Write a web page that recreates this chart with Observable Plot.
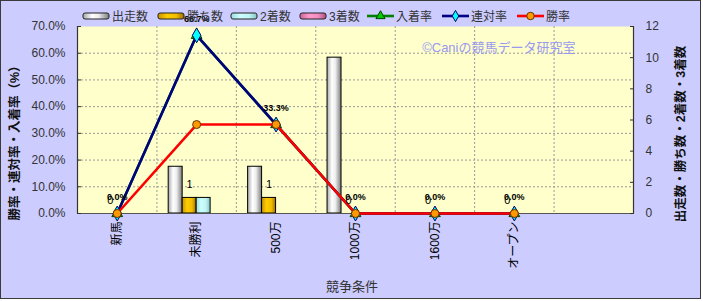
<!DOCTYPE html>
<html><head><meta charset="utf-8">
<script src="https://cdn.jsdelivr.net/npm/d3@7"></script>
<script src="https://cdn.jsdelivr.net/npm/@observablehq/plot@0.6"></script>
<style>
body{margin:0;background:#fff;overflow:hidden;}
#wrap{position:relative;width:703px;height:301px;}
#box{position:absolute;left:0;top:0;width:701px;height:299px;box-sizing:border-box;border:1px solid #3a3a3a;background:#CCCCFF;}
#chart{position:absolute;left:0;top:0;}
</style></head><body>
<div id="wrap"><div id="box"></div><div id="chart"></div></div>
<script>
// ---- data ----
const categories = ["新馬", "未勝利", "500万", "1000万", "1600万", "オープン"];
const starts  = [0, 3, 3, 10, 0, 0];   // 出走数
const wins    = [0, 1, 1, 0, 0, 0];    // 勝ち数
const seconds = [0, 1, 0, 0, 0, 0];    // 2着数
const thirds  = [0, 0, 0, 0, 0, 0];    // 3着数
const placeRate  = [0, 66.7, 33.3, 0, 0, 0]; // 入着率
const rentaiRate = [0, 66.7, 33.3, 0, 0, 0]; // 連対率
const winRate    = [0, 33.3, 33.3, 0, 0, 0]; // 勝率
const leftTicks  = [0, 10, 20, 30, 40, 50, 60, 70];
const rightTicks = [0, 2, 4, 6, 8, 10, 12];
const legendLabels = ["出走数", "勝ち数", "2着数", "3着数", "入着率", "連対率", "勝率"];
const leftTitle = "勝率・連対率・入着率（%）";
const rightTitle = "出走数・勝ち数・2着数・3着数";
const xTitle = "競争条件";
const watermark = "©Caniの競馬データ研究室";

// ---- derived ----
const nSlots = 7;               // 6 categories + one empty slot
const k = 70 / 12;              // count axis -> percent axis
const bw = 0.176;               // bar width in category units
const rows = vals => vals.map((v, i) => ({i, v}));
const barRows = (vals, s) => vals.map((v, i) => ({i, v, s})).filter(d => d.v > 0);
const cx = d => d.i + 0.5;
const barX1 = d => d.i + 0.5 + (d.s - 2) * bw;
const barX2 = d => d.i + 0.5 + (d.s - 1) * bw;
const font = "'Liberation Sans', 'Noto Sans CJK JP', sans-serif";

const barFills = ["url(#gWhite)", "url(#gGold)", "url(#gCyan)", "url(#gPink)"];
const barMarks = [starts, wins, seconds, thirds].map((vals, s) =>
  Plot.rect(barRows(vals, s), {x1: barX1, x2: barX2, y1: 0, y2: d => d.v * k,
    fill: barFills[s], stroke: "#000", strokeWidth: 1}));

const lineSeries = [
  {vals: placeRate, stroke: "#008000", symbol: "triangle", fill: "#00cc00", mstroke: "#004000", r: 4},
  {vals: rentaiRate, stroke: "#000080", symbol: "diamond", fill: "#00ffff", mstroke: "#000060", r: 4.5},
  {vals: winRate, stroke: "#ff0000", symbol: "circle", fill: "#ff9900", mstroke: "#663300", r: 4}
];
const lineMarks = lineSeries.flatMap(s => [
  Plot.line(rows(s.vals), {x: cx, y: "v", stroke: s.stroke, strokeWidth: 2.6}),
  Plot.dot(rows(s.vals), {x: cx, y: "v", symbol: s.symbol, r: s.r, fill: s.fill, stroke: s.mstroke, strokeWidth: 1})
]);

const chart = Plot.plot({
  width: 703, height: 301,
  marginLeft: 77, marginRight: 70, marginTop: 26, marginBottom: 88,
  style: {background: "transparent", fontFamily: font, fontSize: "12px", color: "#333"},
  x: {type: "linear", domain: [0, nSlots], label: null},
  y: {domain: [0, 70], label: null},
  marks: [
    Plot.frame({fill: "#FFFFCC", stroke: "none"}),
    Plot.ruleY(leftTicks.filter(t => t > 0 && t < 70), {stroke: "#999", strokeDasharray: "2,2"}),
    Plot.ruleX(d3.range(1, nSlots), {stroke: "#999", strokeDasharray: "2,2"}),
    ...barMarks,
    Plot.ruleX([0, nSlots], {stroke: "#333", strokeWidth: 1.2}),
    Plot.ruleY([0], {stroke: "#555", strokeWidth: 1}),
    Plot.axisY(leftTicks, {anchor: "left", tickSize: -4, tickPadding: 16, tickFormat: d => d.toFixed(1) + "%", label: null, stroke: "#333", fill: "#333"}),
    Plot.axisY(rightTicks.map(t => t * k), {anchor: "right", tickSize: -4, tickPadding: 16, tickFormat: d => String(Math.round(d / k)), label: null, stroke: "#333", fill: "#333"}),
    Plot.axisX(categories.map((c, i) => i + 0.5), {anchor: "bottom", tickSize: 0, tickPadding: 8, tickRotate: -90, textAnchor: "end", tickFormat: d => categories[Math.floor(d)], label: null, fill: "#000", fontSize: 12}),
    ...lineMarks,
    Plot.text(rows(rentaiRate), {x: cx, y: "v", text: d => d.v.toFixed(1) + "%", dx: 0, dy: -16, fontWeight: "bold", fontSize: 9, fill: "#000"}),
    Plot.text(rows(wins), {x: d => d.i + 0.5 - 0.5 * bw, y: d => d.v * k, text: d => String(d.v), dy: -13, fontSize: 11, fill: "#000"}),
    Plot.text([watermark], {frameAnchor: "top-right", dx: -58, dy: 16, text: d => d, fill: "#9999ee", fontSize: 13})
  ]
});
document.getElementById("chart").appendChild(chart);

// ---- gradients, legend, titles ----
const svg = d3.select(chart);
const defs = svg.insert("defs", ":first-child");
function grad(id, stops) {
  const g = defs.append("linearGradient").attr("id", id).attr("x1", "0%").attr("x2", "100%").attr("y1", "0%").attr("y2", "0%");
  stops.forEach(([o, c]) => g.append("stop").attr("offset", o).attr("stop-color", c));
}
grad("gWhite", [[0, "#a8a8a8"], [0.35, "#ffffff"], [0.6, "#ececec"], [1, "#7c7c7c"]]);
grad("gGold", [[0, "#c89400"], [0.35, "#ffcc00"], [0.7, "#f2bc00"], [1, "#9c7000"]]);
grad("gCyan", [[0, "#9cdede"], [0.35, "#ccffff"], [0.7, "#c0f4f4"], [1, "#84c4c4"]]);
grad("gPink", [[0, "#cc6699"], [0.35, "#ff99cc"], [0.7, "#f48cc0"], [1, "#a8507c"]]);

const lg = svg.append("g").attr("font-family", font).attr("font-size", 12).attr("fill", "#333").attr("text-anchor", "start");
const swX = [83, 158, 231, 300, 367, 442, 517];
const ly = 16;
legendLabels.forEach((lab, j) => {
  const x = swX[j];
  if (j < 4) {
    lg.append("rect").attr("x", x).attr("y", ly - 3).attr("width", 26).attr("height", 6).attr("rx", 2)
      .attr("fill", barFills[j]).attr("stroke", "#222").attr("stroke-width", 1);
  } else {
    const s = lineSeries[j - 4];
    lg.append("line").attr("x1", x).attr("x2", x + 27).attr("y1", ly).attr("y2", ly).attr("stroke", s.stroke).attr("stroke-width", 2.6);
    const sym = d3.symbol(s.symbol === "triangle" ? d3.symbolTriangle : s.symbol === "diamond" ? d3.symbolDiamond : d3.symbolCircle, s.symbol === "circle" ? 44 : 36);
    lg.append("path").attr("d", sym()).attr("transform", `translate(${x + 13.5},${ly})`).attr("fill", s.fill).attr("stroke", s.mstroke);
  }
  lg.append("text").attr("x", x + 29).attr("y", ly + 4.5).attr("text-anchor", "start").text(lab);
});

const tg = svg.append("g").attr("font-family", font).attr("fill", "#111");
tg.append("text").attr("transform", "translate(19,140) rotate(-90)").attr("text-anchor", "middle").attr("font-size", 12.5).attr("font-weight", "bold").text(leftTitle);
tg.append("text").attr("transform", "translate(685,134) rotate(-90)").attr("text-anchor", "middle").attr("font-size", 12.5).attr("font-weight", "bold").text(rightTitle);
tg.append("text").attr("x", 352).attr("y", 291).attr("text-anchor", "middle").attr("font-size", 13).attr("fill", "#333").text(xTitle);
</script>
</body></html>
